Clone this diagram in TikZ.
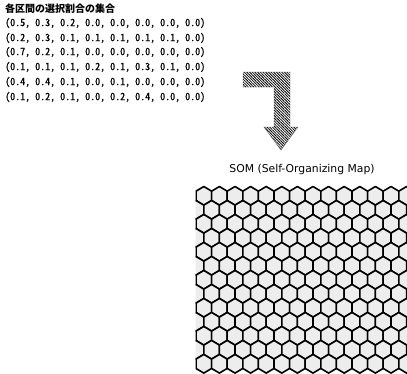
\documentclass[tikz,border=0pt]{standalone}
\usepackage{fontspec}
\setsansfont{DejaVu Sans}
\newfontfamily\jpfont{Noto Sans CJK JP}
\newfontfamily\jpmono{Noto Sans CJK JP}[RawFeature=+hwid, FakeBold=0.8]
\usetikzlibrary{patterns.meta}

\tikzset{
  vecrow/.style={anchor=west, inner sep=0pt, font=\jpmono\fontsize{10bp}{12bp}\selectfont},
  headline/.style={anchor=west, inner sep=0pt, font=\jpfont\bfseries\fontsize{10bp}{12bp}\selectfont},
  somtitle/.style={inner sep=0pt, font=\sffamily\fontsize{10.8bp}{13bp}\selectfont},
  hexcell/.style={draw=black, line width=1.6pt, fill=black!7, line join=round},
  hatcharrow/.style={pattern={Lines[angle=-45, distance=1.9pt, line width=0.8pt]},
                     pattern color=black, draw=black!60, line width=0.4pt},
}

\begin{document}
\begin{tikzpicture}[x=1bp, y=-1bp]
\useasboundingbox (0,0) rectangle (407,374);

% input vectors
\node[headline] (head) at (5,9) {各区間の選択割合の集合};
\node[vecrow] (v1) at (5,23) {(0.5, 0.3, 0.2, 0.0, 0.0, 0.0, 0.0, 0.0)};
\node[vecrow] (v2) at (5,38) {(0.2, 0.3, 0.1, 0.1, 0.1, 0.1, 0.1, 0.0)};
\node[vecrow] (v3) at (5,52) {(0.7, 0.2, 0.1, 0.0, 0.0, 0.0, 0.0, 0.0)};
\node[vecrow] (v4) at (5,67) {(0.1, 0.1, 0.1, 0.2, 0.1, 0.3, 0.1, 0.0)};
\node[vecrow] (v5) at (5,82) {(0.4, 0.4, 0.1, 0.0, 0.1, 0.0, 0.0, 0.0)};
\node[vecrow] (v6) at (5,97) {(0.1, 0.2, 0.1, 0.0, 0.2, 0.4, 0.0, 0.0)};

% bent hatched arrow
\path[hatcharrow] (243,72) -- (290,72) -- (290,127) -- (298,127) -- (281,150)
  -- (264,127) -- (274,127) -- (274,87) -- (243,87) -- cycle;

% map title
\node[somtitle] (som) at (302,170) {SOM (Self-Organizing Map)};

% hexagonal map, cut to its frame
\def\hw{7.8}   % half cell width
\def\R{9.33}   % centre to top vertex
\begin{scope}
\clip (195.5,184) rectangle (407,375);
\foreach \r in {0,...,12}{
  \foreach \c in {0,...,13}{
    \pgfmathsetmacro{\cx}{196+\hw+2*\hw*\c-\hw*mod(\r,2)}
    \pgfmathsetmacro{\cy}{186.5+\R+1.5*\R*\r}
    \path[hexcell] (\cx,\cy-\R) -- (\cx+\hw,\cy-0.5*\R) -- (\cx+\hw,\cy+0.5*\R)
      -- (\cx,\cy+\R) -- (\cx-\hw,\cy+0.5*\R) -- (\cx-\hw,\cy-0.5*\R) -- cycle;
  }
}
\end{scope}
\end{tikzpicture}
\end{document}
